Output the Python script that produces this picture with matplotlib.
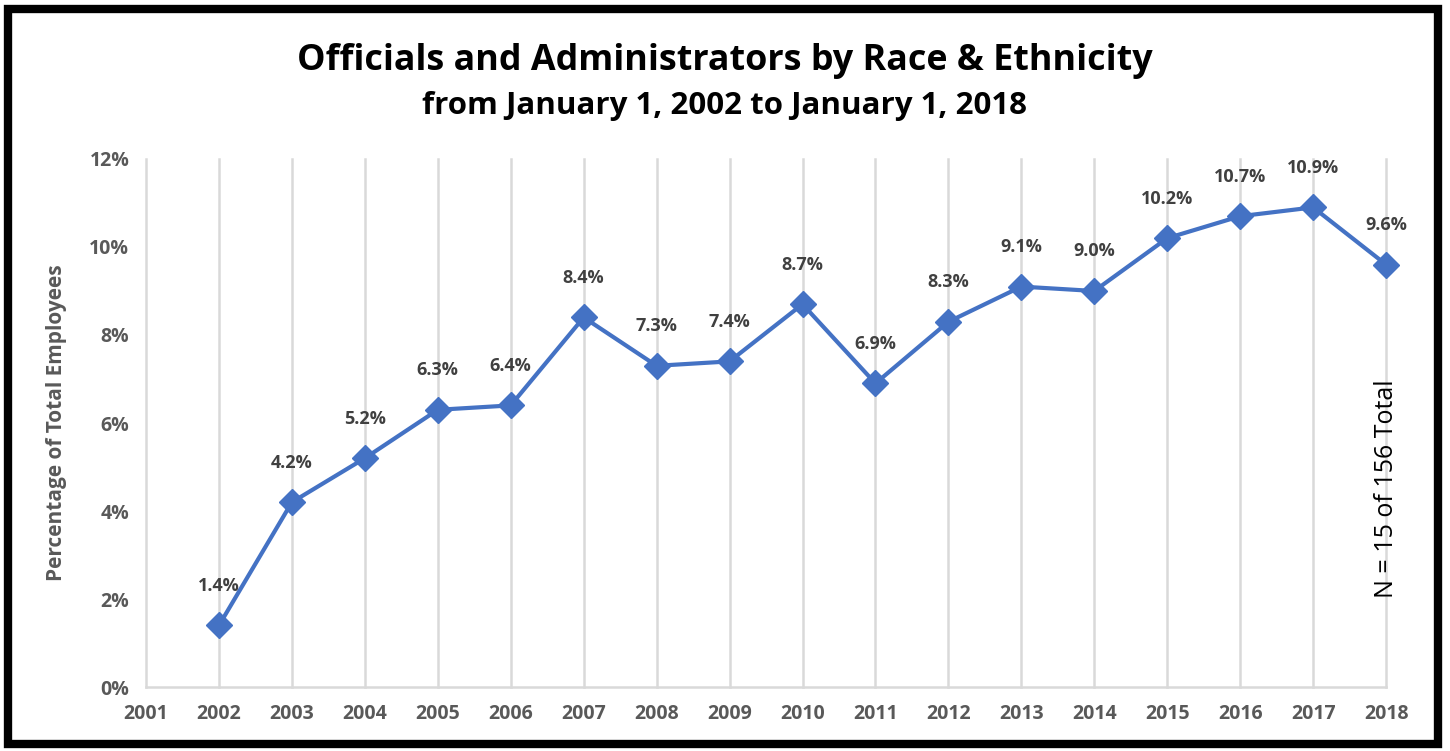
import matplotlib.pyplot as plt
from matplotlib.patches import Rectangle

years = list(range(2002, 2019))
pct = [1.4, 4.2, 5.2, 6.3, 6.4, 8.4, 7.3, 7.4, 8.7, 6.9, 8.3, 9.1, 9.0, 10.2, 10.7, 10.9, 9.6]
tick_years = list(range(2001, 2019))
y_ticks = [0, 2, 4, 6, 8, 10, 12]

plt.rcParams.update({
    "font.family": "Open Sans",
    "figure.facecolor": "white",
    "axes.facecolor": "white",
})

BLUE = "#4472C4"
GRID = "#D9D9D9"
TICK = "#595959"
LABEL = "#404040"

fig = plt.figure(figsize=(14.5, 7.51), dpi=100)
ax = fig.add_axes([0.1007, 0.0852, 0.8552, 0.7031])

ax.plot(years, pct, color=BLUE, linewidth=3, marker="D", markersize=13,
        zorder=3, clip_on=False)
for x, y in zip(years, pct):
    ax.annotate(f"{y:.1f}%", (x, y), xytext=(0, 22), textcoords="offset points",
                ha="center", va="bottom", fontsize=13, fontweight="bold", color=LABEL)

ax.set_xlim(2001, 2018)
ax.set_ylim(0, 12)
ax.set_xticks(tick_years)
ax.set_xticklabels([str(t) for t in tick_years])
ax.set_yticks(y_ticks)
ax.set_yticklabels([f"{t}%" for t in y_ticks])
ax.tick_params(length=0, labelsize=14, labelcolor=TICK, pad=12)
for lab in ax.get_xticklabels() + ax.get_yticklabels():
    lab.set_fontweight("bold")

for t in tick_years:
    ax.axvline(t, color=GRID, linewidth=1.8, zorder=1, clip_on=False)

for side in ["top", "right", "left"]:
    ax.spines[side].set_visible(False)
ax.spines["bottom"].set_color(GRID)
ax.spines["bottom"].set_linewidth(1.8)

ax.set_ylabel("Percentage of Total Employees", fontsize=15, fontweight="bold",
              color=TICK, labelpad=16)

ax.text(2018, 4.5, "N = 15 of 156 Total", rotation=90, ha="center", va="center",
        fontsize=18, color="black")

fig.text(0.50, 0.919, "Officials and Administrators by Race & Ethnicity",
         ha="center", va="center", fontsize=25.8, fontweight="bold", color="black")
fig.text(0.50, 0.859, "from January 1, 2002 to January 1, 2018",
         ha="center", va="center", fontsize=22.5, fontweight="bold", color="black")

fig.add_artist(Rectangle((0.0055, 0.0095), 0.986, 0.978, transform=fig.transFigure,
                         fill=False, edgecolor="black", linewidth=6))

fig.savefig("out.png", dpi=100)
